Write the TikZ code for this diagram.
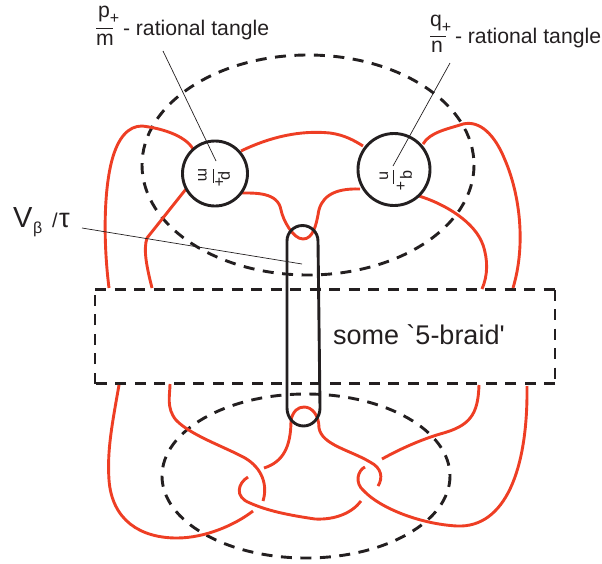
\documentclass[tikz,border=0pt]{standalone}
\usepackage{fontspec}
\setmainfont{Liberation Sans}
\newfontfamily\plainsans{Liberation Sans}
\definecolor{redknot}{RGB}{238,62,36}
\definecolor{inkk}{RGB}{35,31,32}
\tikzset{
  knot/.style={draw=redknot,line width=2.9pt,line cap=butt},
  dashline/.style={draw=inkk,line width=2.9pt,dash pattern=on 11pt off 8.5pt},
  solidline/.style={draw=inkk,line width=2.9pt},
  leader/.style={draw=inkk,line width=0.7pt},
  lbl/.style={text=inkk,inner sep=0pt,outer sep=0pt,font=\fontsize{21.2}{21.2}\selectfont},
  tangle/.style={circle,draw=inkk,line width=2.9pt,minimum size=#1,inner sep=0pt},
  tiny/.style={text=inkk,inner sep=0pt,outer sep=0pt,font=\fontsize{16}{16}\selectfont,rotate=-90}
}
\begin{document}
\begin{tikzpicture}[x=1pt,y=-1pt]
\useasboundingbox (0,0) rectangle (602,563);
% dashed ellipses and box
\draw[dashline] (308,165) ellipse [x radius=166,y radius=110];
\draw[dashline] (306,476) ellipse [x radius=144,y radius=82];
\draw[dashline] (95,289.5) -- (555,289.5);
\draw[dashline] (555,289.5) -- (555,383.5);
\draw[dashline] (555,383.5) -- (95,383.5);
\draw[dashline] (95,383.5) -- (95,289.5);
% red strands, top
\draw[knot] (109,288) .. controls (103,240) and (104,190) .. (112,160) .. controls (118,138) and (128,126) .. (142,126) .. controls (160,128) and (185,135) .. (193,149);
\draw[knot] (152,288) .. controls (147,268) and (143,250) .. (147,238) -- (186,189);
\draw[knot] (241,151) .. controls (270,137) and (300,130) .. (330,133) .. controls (345,135) and (355,141) .. (363,146);
\draw[knot] (241,193) .. controls (255,193) and (278,192) .. (281,210) .. controls (283,220) and (293,239) .. (303,239) .. controls (313,239) and (316,225) .. (318,215) .. controls (320,198) and (332,188) .. (360,189);
\draw[knot] (423,144) .. controls (430,132) and (448,129) .. (463,124) .. controls (480,120) and (495,135) .. (505,160) .. controls (520,195) and (526,245) .. (513,288);
\draw[knot] (419,196) .. controls (445,204) and (475,222) .. (483,245) .. controls (488,260) and (488,275) .. (482,289);
% red strands, bottom
\draw[knot] (119,385) .. controls (112,425) and (107,450) .. (109,480) .. controls (112,520) and (140,538) .. (177,538) .. controls (205,538) and (235,525) .. (253,511);
\draw[knot] (170,384) .. controls (170,395) and (166,408) .. (176,420) .. controls (190,435) and (225,447) .. (245,458) .. controls (262,468) and (268,485) .. (263,501);
\draw[knot] (248,477) .. controls (238,483) and (234,497) .. (250,503) .. controls (270,512) and (295,516) .. (315,519) .. controls (335,520) and (352,513) .. (361,501);
\draw[knot] (264,468) .. controls (283,462) and (291,447) .. (291,420) .. controls (293,411) and (298,407) .. (304,407) .. controls (312,407) and (319,415) .. (319,428) .. controls (322,445) and (350,450) .. (370,462) .. controls (382,468) and (383,478) .. (378,486);
\draw[knot] (365,467) .. controls (358,470) and (354,483) .. (364,491) .. controls (380,508) and (420,524) .. (457,526) .. controls (505,528) and (528,470) .. (527,386);
\draw[knot] (382,459) .. controls (400,449) and (420,440) .. (440,434) .. controls (470,426) and (478,415) .. (479,385);
% capsule
\draw[solidline] (287,408) -- (287,241) arc[start angle=180,end angle=360,radius=15.5] -- (320,408)
  arc[start angle=0,end angle=180,x radius=16.5,y radius=18];
% tangles
\node[tangle=65pt] (tl) at (215,173.5) {};
\node[tangle=72pt] (tr) at (394,169.5) {};
\node[tiny] (lm) at (202.5,175) {m};
\node[tiny] (lp) at (224,176) {p};
\node[tiny] (lplus) at (218.5,182) {+};
\draw[inkk,line width=0.8pt] (213,169) -- (213,183);
\node[tiny] (rn) at (384,176) {n};
\node[tiny] (rq) at (406,175) {q};
\node[tiny] (rplus) at (400,186) {+};
\draw[inkk,line width=0.8pt] (393,170) -- (393,184);
% labels
\node[lbl,anchor=base west] (pl) at (98,17) {p\raisebox{-6pt}{\fontsize{16}{16}\selectfont +}};
\draw[inkk,line width=0.8pt] (96,28) -- (113,28);
\node[lbl,anchor=base west] (ml) at (96,45) {m};
\node[lbl,anchor=base west] (tl1) at (123,35) {- rational tangle};
\node[lbl,anchor=base west] (ql) at (430,26) {q\raisebox{-6pt}{\fontsize{16}{16}\selectfont +}};
\draw[inkk,line width=0.8pt] (430,36.5) -- (446,36.5);
\node[lbl,anchor=base west] (nl) at (431,52) {n};
\node[lbl,anchor=base west] (tl2) at (455,43) {- rational tangle};
\node[lbl,anchor=base west,font=\fontsize{29}{29}\selectfont] (vb) at (13,227) {V};
\node[lbl,anchor=base west,font=\fontsize{16}{16}\selectfont] (vbb) at (33,233) {β};
\node[lbl,anchor=base west,font=\fontsize{20}{20}\selectfont] (vs) at (52,227) {/};
\node[lbl,anchor=base west,font=\fontsize{27}{27}\selectfont] (vt) at (59,227) {τ};
\node[lbl,anchor=base west,font=\fontsize{27}{27}\plainsans] (sb) at (333,344) {some `5-braid'};
% leaders
\coordinate (a1) at (163,51); \coordinate (a2) at (216,161);
\coordinate (b1) at (450,63); \coordinate (b2) at (393,166);
\coordinate (c1) at (82,228); \coordinate (c2) at (302,264);
\draw[leader] (a1) -- (a2);
\draw[leader] (b1) -- (b2);
\draw[leader] (c1) -- (c2);
\end{tikzpicture}
\end{document}
